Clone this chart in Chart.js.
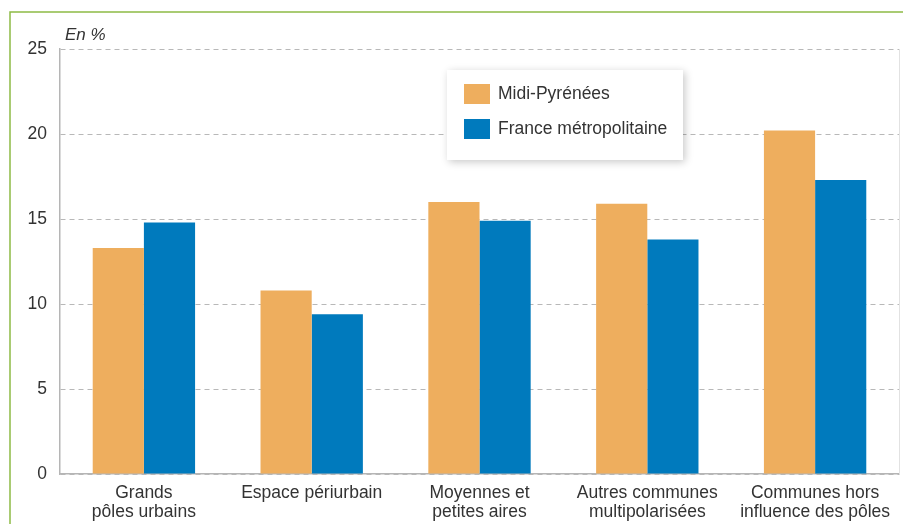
<!DOCTYPE html>
<html>
<head>
<meta charset="utf-8">
<script src="https://cdn.jsdelivr.net/npm/chart.js@4/dist/chart.umd.min.js"></script>
<style>
  html, body { margin: 0; padding: 0; background: #fff; }
  #wrap { width: 903px; height: 524px; position: relative; }
</style>
</head>
<body>
<div id="wrap"><canvas id="c" width="903" height="524"></canvas></div>
<script>
// Catégories d'espace (libellés sur deux lignes)
const categories = [
  ["Grands", "pôles urbains"],
  "Espace périurbain",
  ["Moyennes et", "petites aires"],
  ["Autres communes", "multipolarisées"],
  ["Communes hors", "influence des pôles"]
];
const seriesNames = ["Midi-Pyrénées", "France métropolitaine"];
const midiPyrenees = [13.3, 10.8, 16.0, 15.9, 20.2];
const franceMetro = [14.8, 9.4, 14.9, 13.8, 17.3];
const yTicks = [0, 5, 10, 15, 20, 25];
const unitLabel = "En %";

const ORANGE = "#EEAE5E";
const BLUE = "#007ABD";
const FONT = "'Liberation Sans', Arial, Helvetica, sans-serif";
const TEXT = "#333";

// Cadre vert, unité, bord droit de la zone de tracé et légende encadrée
const decor = {
  id: "decor",
  beforeDraw(chart) {
    const ctx = chart.ctx;
    ctx.save();
    ctx.strokeStyle = "#8DBB45";
    ctx.lineWidth = 1.5;
    ctx.beginPath();
    ctx.moveTo(10, 524);
    ctx.lineTo(10, 12);
    ctx.lineTo(903, 12);
    ctx.stroke();
    ctx.restore();
  },
  afterDatasetsDraw(chart) {
    const ctx = chart.ctx;
    const a = chart.chartArea;
    ctx.save();
    ctx.strokeStyle = "#e2e2e2";
    ctx.lineWidth = 1;
    ctx.beginPath();
    ctx.moveTo(a.right + 0.5, a.top);
    ctx.lineTo(a.right + 0.5, a.bottom);
    ctx.stroke();

    ctx.fillStyle = TEXT;
    ctx.font = "italic 17px " + FONT;
    ctx.textBaseline = "alphabetic";
    ctx.textAlign = "left";
    ctx.fillText(unitLabel, a.left + 5, a.top - 9);

    // Légende
    const bx = 447, by = 70, bw = 236, bh = 90;
    ctx.save();
    ctx.shadowColor = "rgba(0,0,0,0.22)";
    ctx.shadowBlur = 8;
    ctx.shadowOffsetX = 2;
    ctx.shadowOffsetY = 2;
    ctx.fillStyle = "#fff";
    ctx.fillRect(bx, by, bw, bh);
    ctx.restore();
    const colors = [ORANGE, BLUE];
    chart.data.datasets.forEach((ds, i) => {
      const sy = 84 + i * 35;
      ctx.fillStyle = colors[i];
      ctx.fillRect(464, sy, 26, 20);
      ctx.fillStyle = TEXT;
      ctx.font = "17.5px " + FONT;
      ctx.textBaseline = "middle";
      ctx.fillText(ds.label, 498, sy + 10);
    });
    ctx.restore();
  }
};

new Chart(document.getElementById("c"), {
  type: "bar",
  data: {
    labels: categories,
    datasets: [
      { label: seriesNames[0], data: midiPyrenees, backgroundColor: ORANGE },
      { label: seriesNames[1], data: franceMetro, backgroundColor: BLUE }
    ]
  },
  options: {
    responsive: false,
    animation: false,
    devicePixelRatio: 1,
    layout: { padding: { top: 49, right: 4, left: 0, bottom: 0 } },
    datasets: { bar: { categoryPercentage: 0.61, barPercentage: 1.0 } },
    plugins: { legend: { display: false }, tooltip: { enabled: false } },
    scales: {
      x: {
        grid: { display: false, drawTicks: false },
        border: { display: true, color: "#b5b5b5", width: 1.5 },
        ticks: { color: TEXT, font: { family: FONT, size: 17.5, lineHeight: 1.12 }, padding: 9, maxRotation: 0, autoSkip: false },
        afterFit(scale) { scale.height = 50; }
      },
      y: {
        min: 0, max: 25,
        afterBuildTicks(scale) { scale.ticks = yTicks.map(v => ({ value: v })); },
        grid: { color: "#b8b8b8", lineWidth: 1, drawTicks: false },
        border: { display: true, color: "#b5b5b5", width: 1.5, dash: [5, 4] },
        ticks: { color: TEXT, font: { family: FONT, size: 17.5 }, padding: 13 },
        afterFit(scale) { scale.width = 60; }
      }
    }
  },
  plugins: [decor]
});
</script>
</body>
</html>
